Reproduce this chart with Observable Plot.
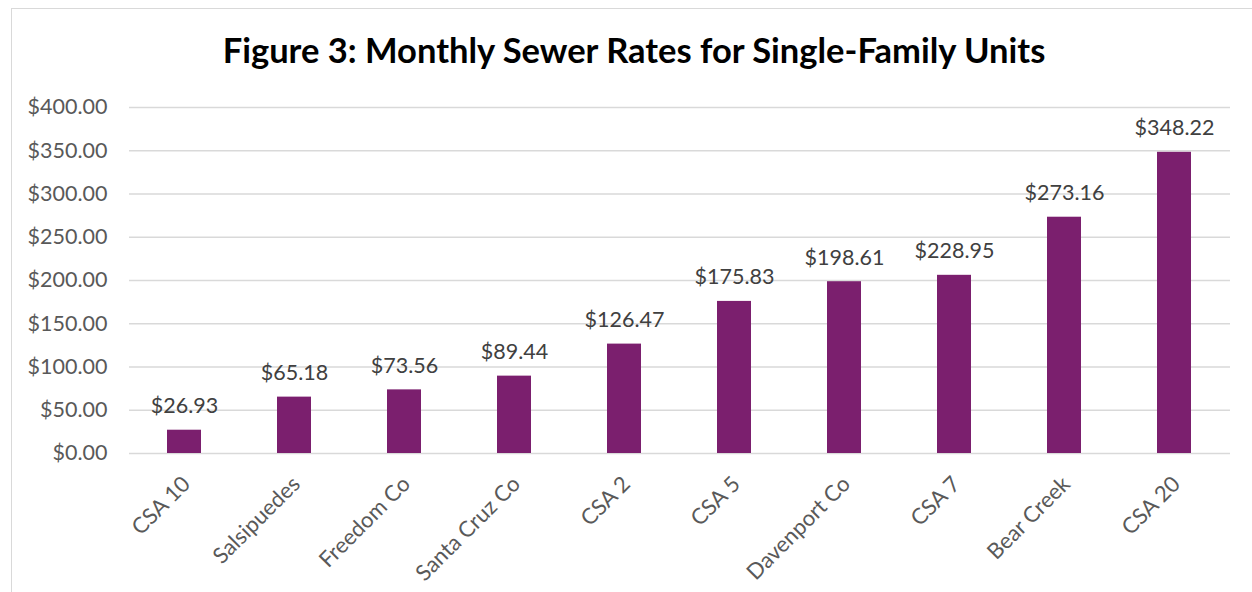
<!DOCTYPE html>
<html>
<head>
<meta charset="utf-8">
<script src="https://cdn.jsdelivr.net/npm/d3@7"></script>
<script src="https://cdn.jsdelivr.net/npm/@observablehq/plot@0.6"></script>
<style>
  html, body { margin: 0; padding: 0; background: #fff; overflow: hidden; }
  #wrap { position: relative; width: 1252px; height: 592px; overflow: hidden; font-family: Lato, sans-serif; }
  #frame { position: absolute; left: 11px; top: 8px; width: 1300px; height: 700px; border: 1.5px solid #d9d9d9; box-sizing: border-box; }
  #title { position: absolute; left: 11px; width: 1246px; top: 28px; text-align: center; font-family: Lato, sans-serif; font-weight: 700; font-size: 34.5px; color: #000; line-height: 44px; white-space: nowrap; }
  #chart { position: absolute; left: 0; top: 0; }
</style>
</head>
<body>
<div id="wrap">
  <div id="frame"></div>
  <div id="chart"></div>
  <div id="title">Figure 3: Monthly Sewer Rates for Single-Family Units</div>
</div>
<script>
const categories = ["CSA 10", "Salsipuedes", "Freedom Co", "Santa Cruz Co", "CSA 2", "CSA 5", "Davenport Co", "CSA 7", "Bear Creek", "CSA 20"];
// bar heights as drawn in the picture
const barValues = [26.93, 65.18, 73.56, 89.44, 126.47, 175.83, 198.61, 206, 273.16, 348.22];
// data label texts as printed
const valueLabels = ["$26.93", "$65.18", "$73.56", "$89.44", "$126.47", "$175.83", "$198.61", "$228.95", "$273.16", "$348.22"];
const yTicks = [0, 50, 100, 150, 200, 250, 300, 350, 400];

const data = categories.map((name, i) => ({name, value: barValues[i], label: valueLabels[i]}));

const chart = Plot.plot({
  width: 1252,
  height: 592,
  marginTop: 107,
  marginBottom: 139,
  marginLeft: 129,
  marginRight: 22,
  style: {fontFamily: "Lato, sans-serif", background: "transparent"},
  x: {domain: categories, paddingInner: 0.69, paddingOuter: 0.345, axis: null},
  y: {domain: [0, 400], axis: null},
  marks: [
    Plot.gridY(yTicks, {stroke: "#d9d9d9", strokeOpacity: 1, strokeWidth: 1.5}),
    Plot.axisY(yTicks, {tickSize: 0, tickPadding: 22, tickFormat: d => "$" + d.toFixed(2), fontSize: 21.5, fill: "#595959", label: null}),
    Plot.barY(data, {x: "name", y: "value", fill: "#7b1f6e"}),
    Plot.text(data, {x: "name", y: "value", text: "label", dy: -24, fontSize: 21.5, fill: "#404040"}),
    Plot.text(categories, {x: d => d, text: d => d, frameAnchor: "bottom", rotate: -45, textAnchor: "end", lineAnchor: "middle", dx: 2, dy: 27, fontSize: 22, fill: "#595959"})
  ]
});
document.getElementById("chart").appendChild(chart);
</script>
</body>
</html>
